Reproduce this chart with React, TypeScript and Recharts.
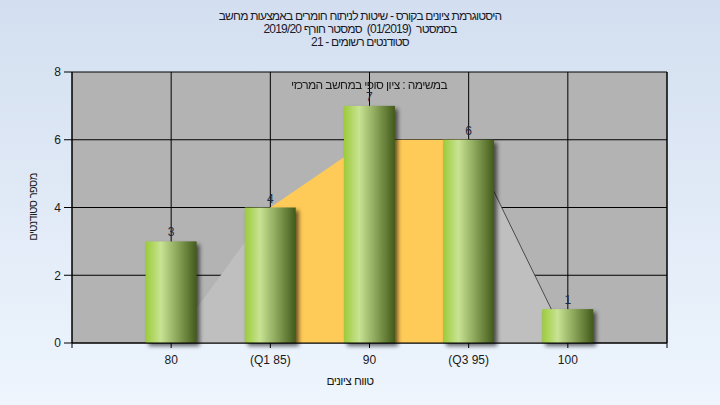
import {
  ComposedChart, Bar, Area, XAxis, YAxis, CartesianGrid, LabelList,
} from "recharts";

// נתוני ההיסטוגרמה
const scores = [80, 85, 90, 95, 100];
const scoreLabels = ["80", "(Q1 85)", "90", "(Q3 95)", "100"];
const students = [3, 4, 7, 6, 1];
// רקע דמוי box-plot: זנב תחתון, טווח בין-רבעוני, זנב עליון
const lowerTail = [0, 4, null, null, null];
const interQuartile = [null, 4, 6, 6, null];
const upperTail = [null, null, null, 6, 0];

const xTicks = [75, 80, 85, 90, 95, 100, 105];
const yTicks = [0, 2, 4, 6, 8];

const titleLines = [
  "היסטוגרמת ציונים בקורס - שיטות לניתוח חומרים באמצעות מחשב",
  "בסמסטר  (01/2019)  סמסטר חורף 2019/20",
  "סטודנטים רשומים - 21",
];
const subTitle = "במשימה : ציון סופי במחשב המרכזי";
const xTitle = "טווח ציונים";
const yTitle = "מספר סטודנטים";

const data = scores.map((s, i) => ({
  score: s,
  students: students[i],
  lowerTail: lowerTail[i],
  interQuartile: interQuartile[i],
  upperTail: upperTail[i],
}));

const FONT = '"Liberation Sans", Arial, sans-serif';
const tickStyle = { fontSize: 12, fill: "#1a1a1a", fontFamily: FONT };
const hebText = {
  position: "absolute" as const,
  textAlign: "center" as const,
  direction: "rtl" as const,
  fontSize: 12,
  lineHeight: "14px",
  letterSpacing: "-0.6px",
  whiteSpace: "pre" as const,
  color: "#1a1a1a",
};

function formatScore(v: number): string {
  const i = scores.indexOf(v);
  return i >= 0 ? scoreLabels[i] : "";
}

// eslint-disable-next-line @typescript-eslint/no-explicit-any
function ShadowBar(props: any) {
  const { x, y, width, height } = props;
  if (!height) return null;
  return (
    <g>
      <rect x={x + 3} y={y + 3} width={width} height={height} fill="#000" opacity={0.6} filter="url(#barShadow)" />
      <rect x={x} y={y} width={width} height={height} fill="url(#barGrad)" />
    </g>
  );
}

export default function App() {
  return (
    <div
      style={{
        position: "fixed", left: 0, top: 0, width: 720, height: 405,
        background: "linear-gradient(#d3dff0, #eef5fd)", fontFamily: FONT,
      }}
    >
      <div style={{ ...hebText, top: 10, left: 0, width: 720, lineHeight: "13px", letterSpacing: "-0.8px", color: "#1a1a2a" }}>
        {titleLines.map((t) => <div key={t}>{t}</div>)}
      </div>
      <ComposedChart
        width={720}
        height={405}
        data={data}
        margin={{ top: 72, right: 0, bottom: 32, left: 0 }}
      >
        <defs>
          <linearGradient id="barGrad" x1="0" y1="0" x2="1" y2="0">
            <stop offset="0%" stopColor="#9ccb3a" />
            <stop offset="30%" stopColor="#c8e393" />
            <stop offset="65%" stopColor="#86a055" />
            <stop offset="100%" stopColor="#425a1a" />
          </linearGradient>
          <filter id="barShadow" x="-20%" y="-20%" width="140%" height="140%">
            <feGaussianBlur stdDeviation="2" />
          </filter>
        </defs>
        <CartesianGrid stroke="#000" fill="#b3b3b3" fillOpacity={1} />
        <XAxis
          dataKey="score"
          type="number"
          domain={[75, 105]}
          ticks={xTicks}
          tickFormatter={formatScore}
          tick={tickStyle}
          tickSize={5}
          tickMargin={7}
          stroke="#000"
          height={30}
        />
        <YAxis
          domain={[0, 8]}
          ticks={yTicks}
          tick={tickStyle}
          tickSize={8}
          tickMargin={3}
          stroke="#000"
          width={72}
        />
        <YAxis
          yAxisId="right"
          orientation="right"
          domain={[0, 8]}
          ticks={yTicks}
          tick={tickStyle}
          tickSize={8}
          tickMargin={2}
          stroke="#000"
          width={53}
        />
        <Area dataKey="lowerTail" type="linear" stroke="none" fill="#bfbfbf" fillOpacity={1} isAnimationActive={false} />
        <Area dataKey="interQuartile" type="linear" stroke="none" fill="#ffcb58" fillOpacity={1} isAnimationActive={false} />
        <Area dataKey="upperTail" type="linear" stroke="#4a4a4a" strokeWidth={1} fill="#bfbfbf" fillOpacity={1} isAnimationActive={false} />
        <Bar dataKey="students" barSize={51} shape={<ShadowBar />} isAnimationActive={false}>
          <LabelList dataKey="students" position="top" offset={5} style={{ fontSize: 12, fill: "#1c2a40", fontFamily: FONT }} />
        </Bar>
      </ComposedChart>
      <div style={{ ...hebText, top: 78, left: 0, width: 738 }}>{subTitle}</div>
      <div style={{ ...hebText, top: 374, left: 0, width: 700 }}>{xTitle}</div>
      <div style={{ ...hebText, top: 200, left: -17, width: 100, fontSize: 11, transform: "rotate(-90deg)" }}>{yTitle}</div>
    </div>
  );
}
